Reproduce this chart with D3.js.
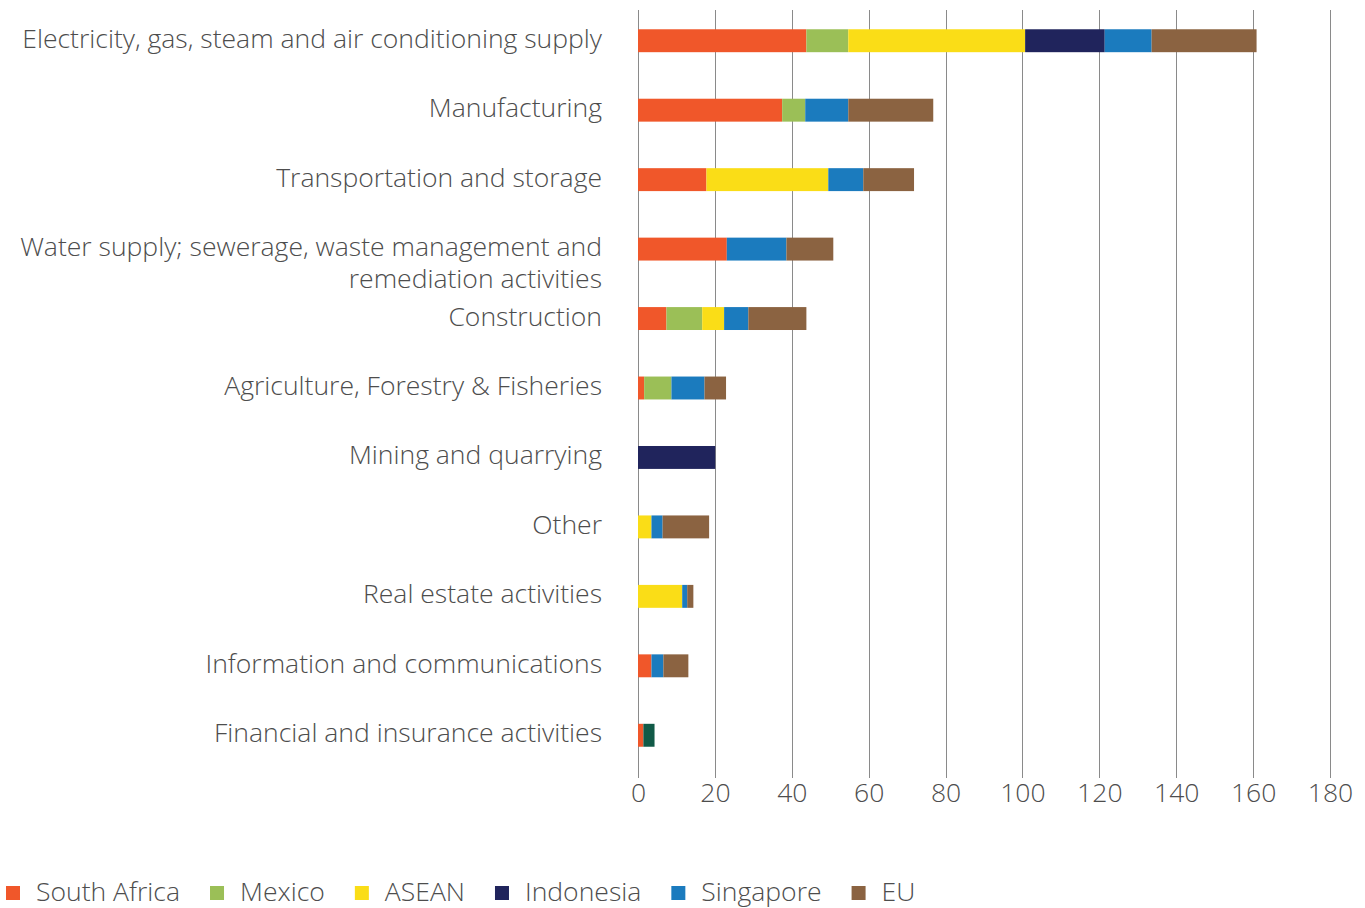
<!DOCTYPE html>
<html>
<head>
<meta charset="utf-8">
<script src="https://cdn.jsdelivr.net/npm/d3@7"></script>
<style>
  body { margin: 0; background: #fff; }
  svg { display: block; font-family: "Open Sans", "Noto Sans", sans-serif; font-weight: 300; }
  .grid line { stroke: #8a8a8a; stroke-width: 1; }
  .lbl { fill: #4d4d4d; }
</style>
</head>
<body>
<div id="chart"></div>
<script>
// categories top to bottom
var categories = [
  "Electricity, gas, steam and air conditioning supply",
  "Manufacturing",
  "Transportation and storage",
  "Water supply; sewerage, waste management and|remediation activities",
  "Construction",
  "Agriculture, Forestry & Fisheries",
  "Mining and quarrying",
  "Other",
  "Real estate activities",
  "Information and communications",
  "Financial and insurance activities"
];

var seriesNames = ["South Africa", "Mexico", "ASEAN", "Indonesia", "Singapore", "EU", "Multiple"];
var seriesColors = ["#f0572a", "#9bbf57", "#fadd17", "#20245c", "#1b7bbe", "#8b6341", "#115a47"];
var legendNames = ["South Africa", "Mexico", "ASEAN", "Indonesia", "Singapore", "EU"];

var southAfrica = [43.8, 37.5, 17.8, 23.1, 7.4, 1.6, 0, 0, 0, 3.5, 1.4];
var mexico      = [10.9, 6.0, 0, 0, 9.3, 7.1, 0, 0, 0, 0, 0];
var asean       = [46.0, 0, 31.7, 0, 5.7, 0, 0, 3.5, 11.5, 0, 0];
var indonesia   = [20.7, 0, 0, 0, 0, 0, 20.1, 0, 0, 0, 0];
var singapore   = [12.2, 11.2, 9.1, 15.5, 6.3, 8.6, 0, 2.9, 1.3, 3.1, 0];
var eu          = [27.3, 22.1, 13.2, 12.2, 15.1, 5.6, 0, 12.1, 1.6, 6.5, 0];
var multiple    = [0, 0, 0, 0, 0, 0, 0, 0, 0, 0, 2.9];

var xTicks = [0, 20, 40, 60, 80, 100, 120, 140, 160, 180];

var W = 1365, H = 908;
var svg = d3.select("#chart").append("svg").attr("width", W).attr("height", H);

var seriesValues = [southAfrica, mexico, asean, indonesia, singapore, eu, multiple];
var table = categories.map(function (c, i) {
  var row = { cat: c };
  seriesNames.forEach(function (s, k) { row[s] = seriesValues[k][i]; });
  return row;
});

var x = d3.scaleLinear().domain([0, 180]).range([638, 1330]);
var y = d3.scaleBand().domain(categories).range([6, 770]).paddingInner(0.67).paddingOuter(0.335);

// gridlines
svg.append("g").attr("class", "grid")
  .selectAll("line").data(xTicks).enter().append("line")
  .attr("x1", function (d) { return Math.round(x(d)) + 0.5; })
  .attr("x2", function (d) { return Math.round(x(d)) + 0.5; })
  .attr("y1", 10).attr("y2", 778);

// stacked bars
var stack = d3.stack().keys(seriesNames)(table);
svg.append("g").selectAll("g").data(stack).enter().append("g")
  .attr("fill", function (d, i) { return seriesColors[i]; })
  .selectAll("rect").data(function (d) { return d; }).enter()
  .filter(function (d) { return d[1] - d[0] > 0; })
  .append("rect")
  .attr("x", function (d) { return x(d[0]); })
  .attr("width", function (d) { return x(d[1]) - x(d[0]); })
  .attr("y", function (d) { return y(d.data.cat); })
  .attr("height", y.bandwidth());

// category labels, sized so the longest line spans ~580px
var fs = 22;
var probe = svg.append("text").attr("font-size", fs).text(categories[0]);
var len = probe.node().getComputedTextLength();
probe.remove();
fs = fs * 580 / len;

var labels = svg.append("g").selectAll("text").data(categories).enter().append("text")
  .attr("class", "lbl")
  .attr("text-anchor", "end")
  .attr("font-size", fs)
  .attr("y", function (d) { return y(d) + y.bandwidth() / 2 + 7; })
  .attr("dy", "0.35em");
labels.each(function (d) {
  var parts = d.split("|");
  var t = d3.select(this);
  parts.forEach(function (p, i) {
    t.append("tspan").attr("x", 602).attr("dy", i === 0 ? 0 : 32).text(p);
  });
});

// x axis tick labels
var xAxis = d3.axisBottom(x).tickValues(xTicks).tickSize(0).tickPadding(0);
var ax = svg.append("g").attr("transform", "translate(0,783)").call(xAxis)
  .attr("font-family", null).attr("font-size", null);
ax.select(".domain").remove();
ax.selectAll("text").attr("class", "lbl").attr("font-size", fs)
  .attr("dy", "0.71em").attr("y", 0);

// legend
var lg = svg.append("g").attr("transform", "translate(6,892)");
var lx = 0;
legendNames.forEach(function (n) {
  var i = seriesNames.indexOf(n);
  var it = lg.append("g").attr("transform", "translate(" + lx + ",0)");
  it.append("rect").attr("x", 0).attr("y", -6).attr("width", 14).attr("height", 14).attr("fill", seriesColors[i]);
  var t = it.append("text").attr("class", "lbl").attr("x", 30).attr("dy", "0.35em")
    .attr("font-size", fs).text(n);
  lx += 30 + t.node().getComputedTextLength() + 30;
});
</script>
</body>
</html>
